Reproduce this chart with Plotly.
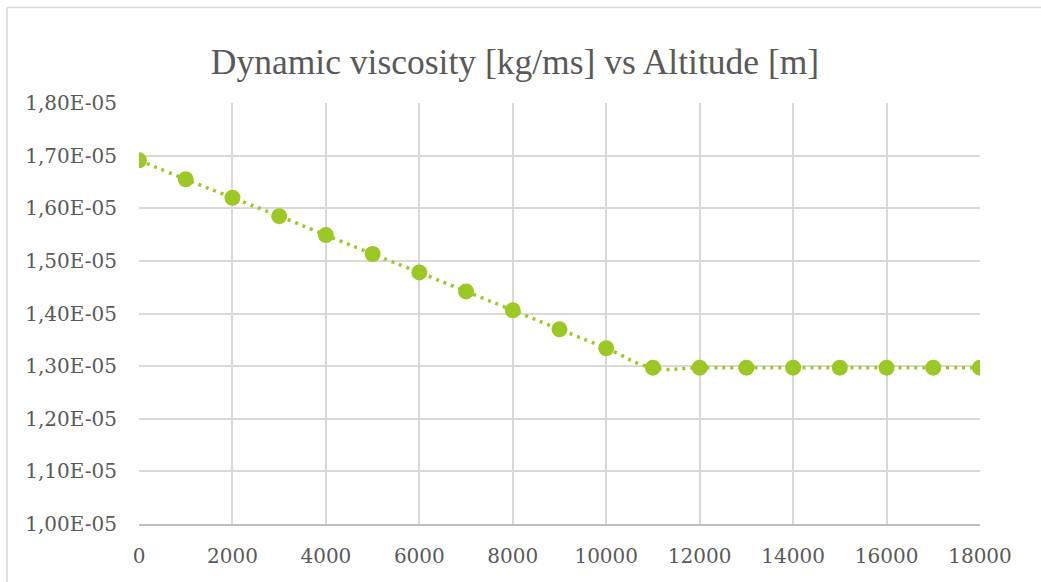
import plotly.graph_objects as go

# Altitude [m] and dynamic viscosity [kg/ms]
altitude = [0, 1000, 2000, 3000, 4000, 5000, 6000, 7000, 8000, 9000,
            10000, 11000, 12000, 13000, 14000, 15000, 16000, 17000, 18000]
viscosity = [1.691e-5, 1.655e-5, 1.620e-5, 1.585e-5, 1.549e-5, 1.513e-5,
             1.478e-5, 1.442e-5, 1.406e-5, 1.370e-5, 1.334e-5, 1.297e-5,
             1.297e-5, 1.297e-5, 1.297e-5, 1.297e-5, 1.297e-5, 1.297e-5,
             1.297e-5]

y_ticks = [1.0e-5, 1.1e-5, 1.2e-5, 1.3e-5, 1.4e-5, 1.5e-5, 1.6e-5, 1.7e-5, 1.8e-5]
y_tick_labels = ["1,00E-05", "1,10E-05", "1,20E-05", "1,30E-05", "1,40E-05",
                 "1,50E-05", "1,60E-05", "1,70E-05", "1,80E-05"]
x_ticks = [0, 2000, 4000, 6000, 8000, 10000, 12000, 14000, 16000, 18000]
x_tick_labels = ["0", "2000", "4000", "6000", "8000", "10000", "12000",
                 "14000", "16000", "18000"]

GREEN = "#9BC824"
GRID = "#d9d9d9"
TEXT = "#595959"

fig = go.Figure()
fig.add_trace(go.Scatter(
    x=altitude, y=viscosity,
    mode="lines+markers",
    line=dict(color=GREEN, width=3.5, dash="3px,5px", shape="spline", smoothing=1.3),
    marker=dict(color=GREEN, size=16),
    showlegend=False,
))

W, H = 1041, 582
L, R, T, B = 139, 61, 103, 58
pw, ph = W - L - R, H - T - B

def px_x(p):
    return (p - L) / pw

def px_y(p):
    return (H - B - p) / ph

# outer chart frame (left and top edges)
fig.add_shape(type="line", xref="paper", yref="paper",
              x0=px_x(7), x1=px_x(7), y0=px_y(H + 10), y1=px_y(7.5),
              line=dict(color=GRID, width=1.5))
fig.add_shape(type="line", xref="paper", yref="paper",
              x0=px_x(7), x1=px_x(W + 10), y0=px_y(7.5), y1=px_y(7.5),
              line=dict(color=GRID, width=1.5))

tick_font = dict(family="DejaVu Serif", size=20, color=TEXT)

fig.update_layout(
    width=W, height=H,
    margin=dict(l=L, r=R, t=T, b=B),
    paper_bgcolor="white", plot_bgcolor="white",
    title=dict(text="Dynamic viscosity [kg/ms] vs Altitude [m]",
               x=515 / W, xanchor="center", xref="container",
               y=1 - 62 / H, yanchor="middle", yref="container",
               font=dict(family="Liberation Serif", size=35.5, color=TEXT)),
    font=tick_font,
)
fig.update_xaxes(range=[0, 18000], tickvals=x_ticks, ticktext=x_tick_labels,
                 tickfont=tick_font,
                 showgrid=True, gridcolor=GRID, gridwidth=1.5, zeroline=False,
                 showline=True, linecolor="#bfbfbf", linewidth=1.5,
                 ticks="", ticklabelstandoff=13)
fig.update_yaxes(range=[1.0e-5, 1.8e-5], tickvals=y_ticks, ticktext=y_tick_labels,
                 tickfont=tick_font,
                 showgrid=True, gridcolor=GRID, gridwidth=1.5, zeroline=False,
                 showline=False, ticks="", ticklabelstandoff=21)

fig.write_html("out.html")
